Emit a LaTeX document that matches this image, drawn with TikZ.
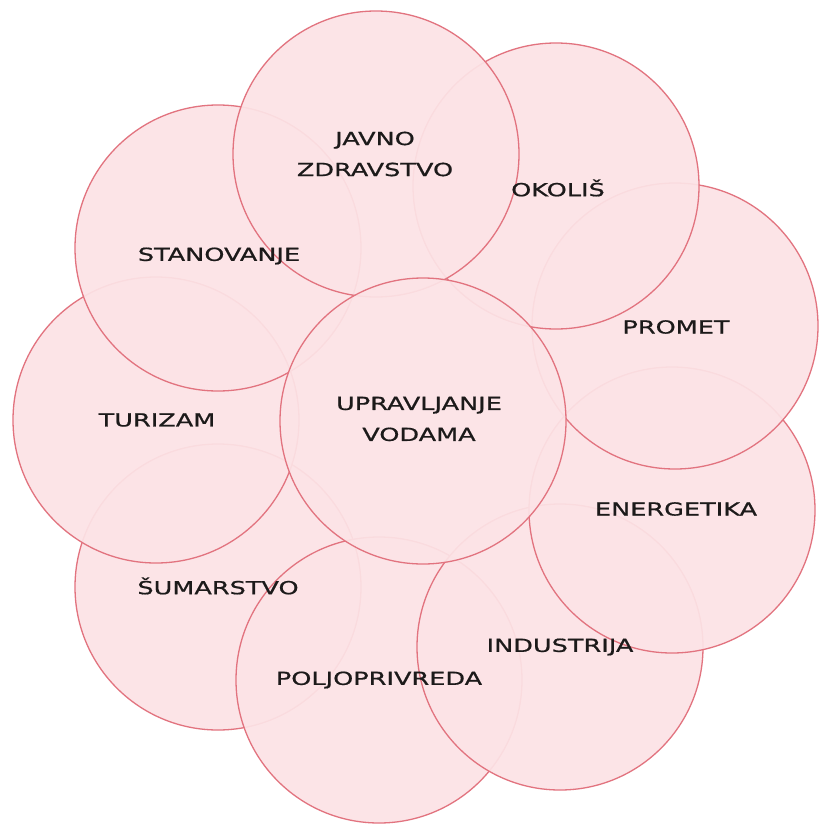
\documentclass[tikz,border=0pt]{standalone}
\usepackage{fontspec}
\setmainfont{DejaVu Sans}[FakeStretch=1.42,FakeBold=0.8]
\definecolor{bubfill}{HTML}{FCE3E6}
\definecolor{bubline}{HTML}{E2737F}
\definecolor{txt}{HTML}{1C1A1A}
\begin{document}
\begin{tikzpicture}[x=1pt,y=-1pt,
  bub/.style={circle,minimum size=286pt,inner sep=0pt,fill=bubfill,fill opacity=0.93,draw=bubline,line width=1.3pt},
  lab/.style={text=txt,align=center,font=\fontsize{18}{31}\selectfont,inner sep=0pt}]
\useasboundingbox (0,0) rectangle (819,827);
\fill[white] (0,0) rectangle (819,827);
% circles, bottom to top
\node[bub] (sum) at (218,587) {};
\node[bub] (pol) at (379,680) {};
\node[bub] (ind) at (560,647) {};
\node[bub] (ene) at (672,510) {};
\node[bub] (pro) at (675,326) {};
\node[bub] (oko) at (556,186) {};
\node[bub] (tur) at (156,420) {};
\node[bub] (sta) at (218,248) {};
\node[bub] (jz)  at (376,154) {};
\node[bub] (upr) at (423,421) {};
% labels
\node[lab] (tjz) at ([xshift=-1pt]jz.center) {JAVNO\\ZDRAVSTVO};
\node[lab] (toko) at ([xshift=2pt,yshift=-2pt]oko.center) {OKOLIŠ};
\node[lab] (tsta) at ([xshift=1pt,yshift=-8pt]sta.center) {STANOVANJE};
\node[lab] (tpro) at ([xshift=1pt,yshift=-1pt]pro.center) {PROMET};
\node[lab] (ttur) at ([xshift=1pt]tur.center) {TURIZAM};
\node[lab] (tupr) at ([xshift=-4pt,yshift=2pt]upr.center) {UPRAVLJANJE\\VODAMA};
\node[lab] (tene) at ([xshift=4pt,yshift=1pt]ene.center) {ENERGETIKA};
\node[lab] (tsum) at ([yshift=1pt]sum.center) {ŠUMARSTVO};
\node[lab] (tind) at ([yshift=0pt]ind.center) {INDUSTRIJA};
\node[lab] (tpol) at ([yshift=0pt]pol.center) {POLJOPRIVREDA};
\end{tikzpicture}
\end{document}
